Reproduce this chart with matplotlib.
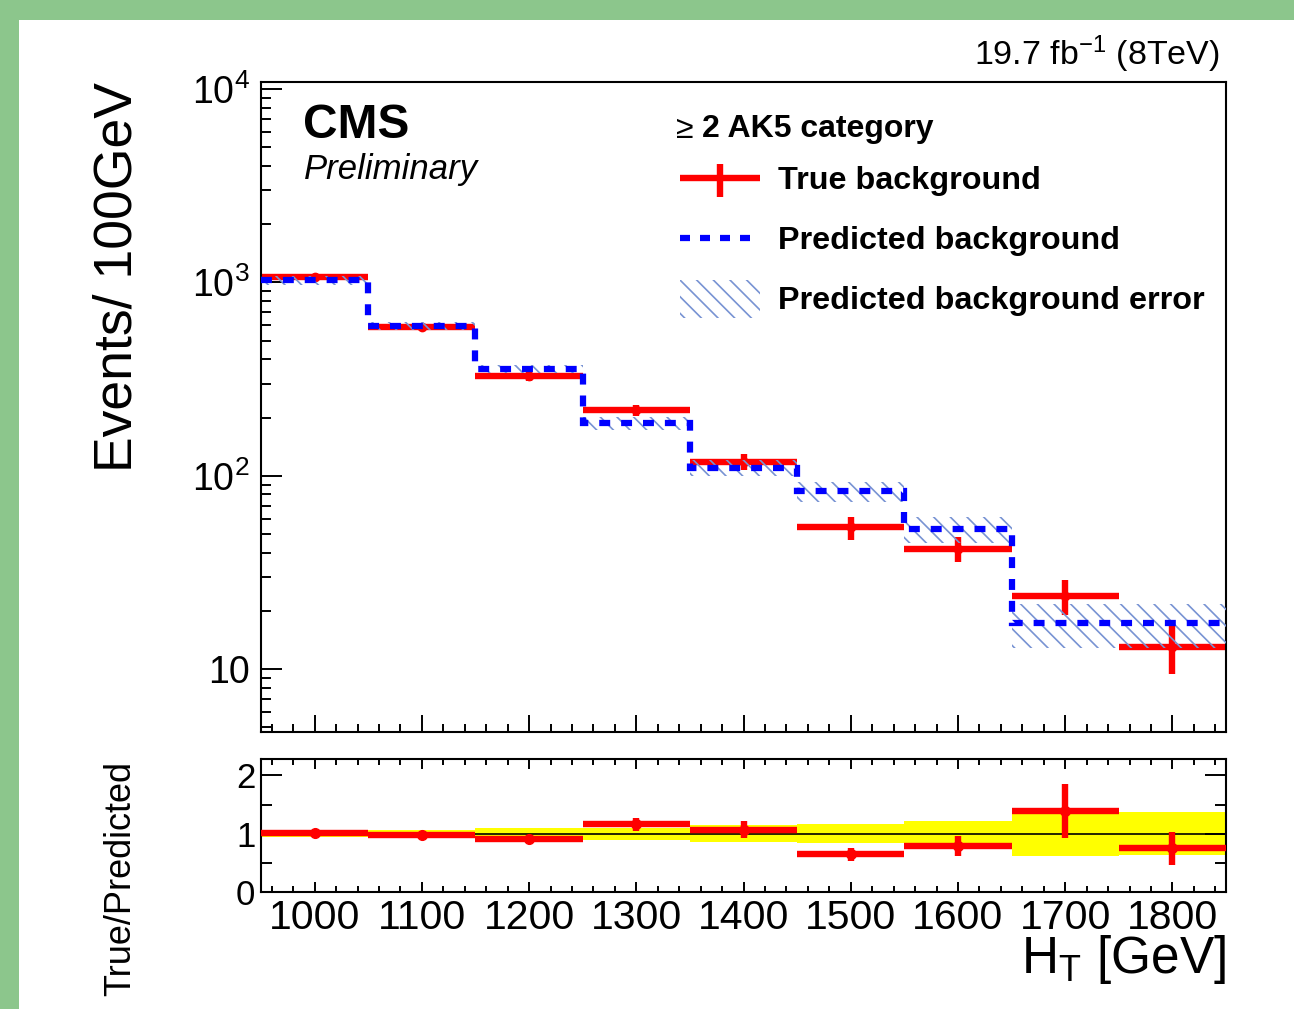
import numpy as np
import matplotlib
matplotlib.use("Agg")
import matplotlib.pyplot as plt
from matplotlib.patches import Rectangle
from matplotlib.ticker import FixedLocator, MultipleLocator, FixedFormatter, NullFormatter

plt.rcParams['font.family'] = ['Liberation Sans', 'DejaVu Sans']
plt.rcParams['mathtext.fontset'] = 'custom'
plt.rcParams['mathtext.rm'] = 'Liberation Sans'
plt.rcParams['mathtext.it'] = 'Liberation Sans:italic'
plt.rcParams['mathtext.bf'] = 'Liberation Sans:bold'
plt.rcParams['hatch.linewidth'] = 1.2

# Data
ht_bins = [1000, 1100, 1200, 1300, 1400, 1500, 1600, 1700, 1800]
bin_width = 100
true_bkg = [1067, 587, 329, 218, 118, 54, 42, 24, 13]
true_err = [33, 24, 18, 15, 11, 7.3, 6.4, 4.9, 3.6]
pred_bkg = [1026, 596, 356, 187, 110, 83, 53, 17.3, 17.3]
pred_err = [50, 26, 17, 15, 10, 10, 8, 4.5, 4.5]
ratio = [1.02, 0.97, 0.91, 1.16, 1.07, 0.65, 0.79, 1.39, 0.75]
ratio_err = [0.03, 0.04, 0.05, 0.11, 0.14, 0.11, 0.17, 0.46, 0.28]
ratio_band = [0.05, 0.07, 0.10, 0.10, 0.15, 0.16, 0.22, 0.38, 0.37]

y_ticks = [10, 100, 1000, 10000]
y_ticklabels = ['10', '$10^{2}$', '$10^{3}$', '$10^{4}$']

RED = '#ff0000'
BLUE = '#0000ff'
HATCH = '#7893d3'
W, H = 1294, 1009

centers = np.array(ht_bins, dtype=float)
edges = np.append(centers - bin_width / 2, centers[-1] + bin_width / 2)
pred = np.array(pred_bkg)
perr = np.array(pred_err)

fig = plt.figure(figsize=(W / 100, H / 100), dpi=100, facecolor='#8cc68c')
fig.patches.append(Rectangle((19 / W, 0), 1, 1 - 20 / H, transform=fig.transFigure,
                             facecolor='white', edgecolor='none', zorder=-5))

def fbox(x0, y0, x1, y1):
    # pixel box -> figure fraction rect
    return [x0 / W, 1 - y1 / H, (x1 - x0) / W, (y1 - y0) / H]

ax = fig.add_axes(fbox(261, 82, 1226, 732))
rax = fig.add_axes(fbox(261, 759, 1226, 892))

# --- main panel
ax.errorbar(centers, true_bkg, xerr=bin_width / 2, yerr=true_err, fmt='o', ms=6,
            color=RED, lw=4.6, capsize=0, zorder=2)
ax.bar(centers, 2 * perr, bottom=pred - perr, width=bin_width, fill=False,
       hatch='\\\\', edgecolor=HATCH, linewidth=0, zorder=3)
ax.stairs(pred, edges, baseline=None, color=BLUE, lw=4.5,
          linestyle=(0, (1.75, 1.75)), zorder=4)

ax.set_yscale('log')
ax.set_xlim(edges[0], edges[-1])
ax.set_ylim(4.72, 1.09e4)
ax.yaxis.set_major_locator(FixedLocator(y_ticks))
ax.yaxis.set_major_formatter(FixedFormatter(y_ticklabels))
ax.yaxis.set_minor_locator(matplotlib.ticker.LogLocator(subs=np.arange(2, 10)))
ax.yaxis.set_minor_formatter(NullFormatter())
ax.xaxis.set_major_locator(MultipleLocator(100))
ax.xaxis.set_minor_locator(MultipleLocator(20))
ax.xaxis.set_major_formatter(NullFormatter())
ax.tick_params(which='both', direction='in', top=False, right=False, width=1.4)
ax.tick_params(axis='y', which='major', length=15, labelsize=27, pad=8)
ax.tick_params(axis='y', which='minor', length=7.5)
ax.tick_params(axis='x', which='major', length=12)
ax.tick_params(axis='x', which='minor', length=6)
for s in ax.spines.values():
    s.set_linewidth(1.5)

# texts
def axf(px, py):
    return (px - 261) / 965, (732 - py) / 650

ax.text(*axf(303, 125), 'CMS', fontsize=34.5, fontweight='bold', va='center', ha='left',
        transform=ax.transAxes)
ax.text(*axf(304, 169), 'Preliminary', fontsize=25, fontstyle='italic', va='center',
        ha='left', transform=ax.transAxes)

# legend
ax.text(*axf(676, 130), '\u2265', fontsize=23, va='center', ha='left', transform=ax.transAxes)
ax.text(*axf(702, 129), '2 AK5 category', fontsize=23, fontweight='bold', va='center',
        ha='left', transform=ax.transAxes)
lx0, lx1 = axf(680, 0)[0], axf(760, 0)[0]
lxc = (lx0 + lx1) / 2
y_true = axf(0, 178)[1]
ax.plot([lx0, lx1], [y_true, y_true], color=RED, lw=4.6, transform=ax.transAxes,
        clip_on=False, solid_capstyle='butt')
ax.plot([lxc, lxc], [axf(0, 164)[1], axf(0, 197)[1]], color=RED, lw=4.6,
        transform=ax.transAxes, clip_on=False, solid_capstyle='butt')
y_pred = axf(0, 238)[1]
ax.plot([lx0, lx1], [y_pred, y_pred], color=BLUE, lw=4.5, linestyle=(0, (1.6, 1.6)),
        transform=ax.transAxes, clip_on=False)
hy0, hy1 = axf(0, 318)[1], axf(0, 280)[1]
ax.add_patch(Rectangle((lx0, hy0), lx1 - lx0, hy1 - hy0, transform=ax.transAxes,
                       fill=False, hatch='\\\\', edgecolor=HATCH, linewidth=0))
for label, py in [('True background', 181), ('Predicted background', 241),
                  ('Predicted background error', 301)]:
    ax.text(*axf(778, py), label, fontsize=23.3, fontweight='bold', va='center', ha='left',
            transform=ax.transAxes)

fig.text(1220 / W, 1 - 54 / H, r'19.7 fb$^{\mathregular{-1}}$ (8TeV)', fontsize=24.5,
         ha='right', va='center')
fig.text(118 / W, 1 - 277 / H, 'Events/ 100GeV', fontsize=38.5, rotation=90,
         ha='center', va='center')

# --- ratio panel
r = np.array(ratio)
band = np.array(ratio_band)
rax.bar(centers, 2 * band, bottom=1 - band, width=bin_width, color='#ffff00',
        linewidth=0, zorder=1)
rax.axhline(1, color='black', lw=1.2, zorder=2)
rax.errorbar(centers, r, xerr=bin_width / 2, yerr=ratio_err, fmt='o', ms=7,
             color=RED, lw=4.6, capsize=0, zorder=3)
rax.set_xlim(edges[0], edges[-1])
rax.set_ylim(0, 2.28)
rax.yaxis.set_major_locator(FixedLocator([0, 1, 2]))
rax.yaxis.set_minor_locator(FixedLocator([0.5, 1.5]))
rax.xaxis.set_major_locator(MultipleLocator(100))
rax.xaxis.set_minor_locator(MultipleLocator(20))
rax.tick_params(which='both', direction='in', top=True, right=True, width=1.4)
rax.tick_params(axis='y', which='major', length=15, labelsize=25, pad=4)
rax.tick_params(axis='y', which='minor', length=8)
rax.tick_params(axis='x', which='major', length=7, labelsize=29.5, pad=5)
rax.tick_params(axis='x', which='minor', length=4)
for s in rax.spines.values():
    s.set_linewidth(1.5)

fig.text(121 / W, 1 - 879 / H, 'True/Predicted', fontsize=26, rotation=90,
         ha='center', va='center')
fig.text(1226 / W, 1 - 960 / H, r'H$_{\mathregular{T}}$ [GeV]', fontsize=37,
         ha='right', va='center')

fig.savefig('out.png', dpi=100, facecolor=fig.get_facecolor())
